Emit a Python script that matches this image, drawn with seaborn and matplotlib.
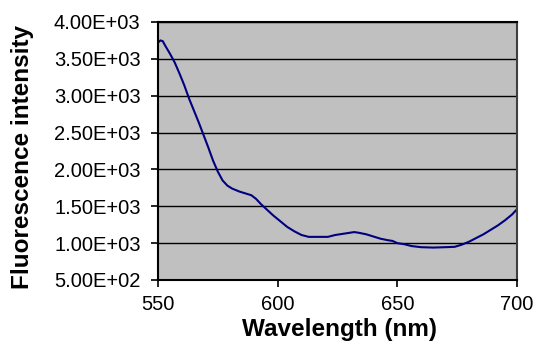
import numpy as np
import pandas as pd
import matplotlib
matplotlib.use("Agg")
import matplotlib.pyplot as plt
import seaborn as sns

# emission spectrum
wavelength = [550, 551, 552, 553, 555, 557, 559, 561, 563, 565, 567, 569, 571, 573,
              575, 577, 579, 581, 584, 587, 589, 591, 593, 595, 598, 601, 604, 607,
              610, 613, 617, 621, 624, 627, 630, 632, 634, 637, 640, 643, 646, 648,
              650, 653, 656, 660, 665, 670, 674, 677, 680, 683, 686, 689, 692, 695,
              698, 700]
intensity = [3720, 3750, 3740, 3680, 3570, 3450, 3300, 3140, 2960, 2800, 2640, 2470,
             2300, 2120, 1970, 1850, 1780, 1740, 1700, 1670, 1650, 1600, 1530, 1470,
             1380, 1300, 1220, 1160, 1110, 1085, 1085, 1085, 1110, 1125, 1140, 1150,
             1140, 1120, 1090, 1060, 1040, 1030, 1000, 985, 960, 945, 940, 945, 950,
             980, 1020, 1070, 1120, 1180, 1240, 1310, 1390, 1460]

x_ticks = [550, 600, 650, 700]
y_ticks = [500, 1000, 1500, 2000, 2500, 3000, 3500, 4000]

df = pd.DataFrame({"wavelength": wavelength, "intensity": intensity})

sns.set_style("ticks")
plt.rcParams['font.family'] = ['Liberation Sans', 'DejaVu Sans']
plt.rcParams['text.color'] = 'black'
plt.rcParams['axes.labelcolor'] = 'black'
plt.rcParams['xtick.color'] = 'black'
plt.rcParams['ytick.color'] = 'black'

fig = plt.figure(figsize=(5.37, 3.42), dpi=100)
ax = fig.add_axes([0.2942, 0.1813, 0.6685, 0.7544])
ax.set_facecolor("#C0C0C0")

sns.lineplot(data=df, x="wavelength", y="intensity", ax=ax, color="#000080", linewidth=1.5)

ax.set_xlim(550, 700)
ax.set_ylim(500, 4000)
ax.set_xticks(x_ticks)
ax.set_yticks(y_ticks)
ax.set_yticklabels([f"{v:.2E}" for v in y_ticks])
ax.yaxis.grid(True, color="black", linewidth=1.0)
ax.set_axisbelow(True)

for side in ["left", "bottom", "top"]:
    ax.spines[side].set_color("black")
    ax.spines[side].set_linewidth(1.5)
ax.spines["right"].set_color("#404040")
ax.spines["right"].set_linewidth(1.5)

ax.tick_params(axis="y", direction="out", length=5, width=1.2, labelsize=14.5, pad=7.5)
ax.tick_params(axis="x", direction="out", length=5, width=1.2, labelsize=14.5, pad=6)

ax.set_xlabel("Wavelength (nm)", fontsize=17.5, fontweight="bold")
ax.set_ylabel("Fluorescence intensity", fontsize=17.5, fontweight="bold")
ax.xaxis.set_label_coords(0.507, -0.148)
ax.yaxis.set_label_coords(-0.345, 0.475)

fig.savefig("out.png", dpi=100)
